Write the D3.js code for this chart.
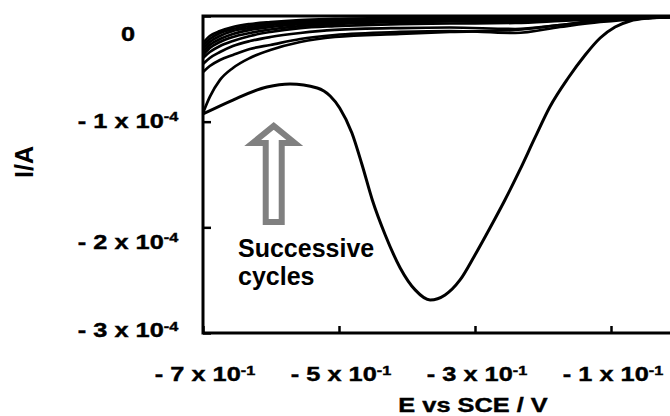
<!DOCTYPE html>
<html>
<head>
<meta charset="utf-8">
<script src="https://cdnjs.cloudflare.com/ajax/libs/d3/7.8.5/d3.min.js"></script>
<style>
  html, body { margin: 0; padding: 0; background: #fff; }
  svg { display: block; font-family: "Liberation Sans", Arial, sans-serif; font-weight: bold; }
</style>
</head>
<body>
<svg id="chart" width="670" height="416"></svg>
<script>
// current values are in units of 1e-4 A, potentials in V
const xTickValues = [-0.7, -0.5, -0.3, -0.1];
const xTickLabels = [`- 7 x 10`, `- 5 x 10`, `- 3 x 10`, `- 1 x 10`];
const xTickExps = [`-1`, `-1`, `-1`, `-1`];

const yTickValues = [0, -1, -2, -3];
const yTickLabels = [`0`, `- 1 x 10`, `- 2 x 10`, `- 3 x 10`];
const yTickExps = [``, `-4`, `-4`, `-4`];

// first cycle, the one with the big reduction peak
const cycle1E = [-0.700, -0.656, -0.606, -0.572, -0.532, -0.513, -0.499, -0.481, -0.466, -0.451,
  -0.432, -0.410, -0.388, -0.366, -0.344, -0.322, -0.300, -0.278, -0.256, -0.234,
  -0.212, -0.190, -0.163, -0.138, -0.116, -0.094, -0.072, -0.043, -0.013, 0.000];
const cycle1I = [-0.927, -0.795, -0.672, -0.643, -0.681, -0.757, -0.870, -1.107, -1.410, -1.741,
  -2.072, -2.384, -2.592, -2.687, -2.640, -2.498, -2.261, -2.006, -1.741, -1.457,
  -1.154, -0.861, -0.587, -0.369, -0.208, -0.104, -0.047, -0.019, -0.009, -0.005];

// later sweeps, all read at the same potentials
const sweepE = [-0.700, -0.690, -0.675, -0.656, -0.631, -0.601, -0.557, -0.506, -0.410, -0.337,
  -0.241, -0.175, -0.116, -0.057, 0.000];
const return1I = [-0.918, -0.766, -0.605, -0.492, -0.397, -0.322, -0.246, -0.199, -0.170, -0.151, -0.132, -0.085, -0.038, -0.019, -0.009];
const cycle2I = [-0.530, -0.473, -0.416, -0.369, -0.312, -0.274, -0.218, -0.180, -0.151, -0.142, -0.161, -0.104, -0.057, -0.024, -0.009];
const cycle3I = [-0.454, -0.397, -0.341, -0.284, -0.237, -0.199, -0.161, -0.132, -0.114, -0.109, -0.123, -0.085, -0.047, -0.019, -0.009];
const cycle4I = [-0.397, -0.341, -0.284, -0.237, -0.189, -0.151, -0.114, -0.095, -0.076, -0.071, -0.066, -0.047, -0.028, -0.014, -0.009];
const cycle5I = [-0.369, -0.303, -0.246, -0.199, -0.161, -0.128, -0.095, -0.076, -0.057, -0.052, -0.047, -0.038, -0.024, -0.014, -0.005];
const cycle6I = [-0.341, -0.274, -0.218, -0.170, -0.132, -0.104, -0.076, -0.061, -0.047, -0.043, -0.038, -0.028, -0.019, -0.009, -0.005];
const cycle7I = [-0.312, -0.246, -0.189, -0.142, -0.114, -0.085, -0.061, -0.047, -0.038, -0.033, -0.028, -0.019, -0.014, -0.009, -0.005];
const cycle8I = [-0.284, -0.218, -0.161, -0.123, -0.095, -0.071, -0.047, -0.038, -0.028, -0.024, -0.019, -0.014, -0.009, -0.005, -0.005];
const cycle9I = [-0.255, -0.189, -0.142, -0.104, -0.076, -0.057, -0.038, -0.028, -0.019, -0.014, -0.014, -0.009, -0.009, -0.005, -0.005];

const sweeps = [return1I, cycle2I, cycle3I, cycle4I, cycle5I, cycle6I, cycle7I, cycle8I, cycle9I];

// layout
const plotLeft = 203, plotTop = 16, plotBottom = 333;
const labelStretch = 1.3;
const yLabelNudge = [25, 6, 21.5, 4];

const svg = d3.select(`#chart`);

const x = d3.scaleLinear().domain([-0.7, 0]).range([plotLeft, 679]);
const y = d3.scaleLinear().domain([-3, 0]).range([plotBottom, plotTop]);

svg.append(`defs`).append(`clipPath`)
  .attr(`id`, `plotArea`)
  .append(`rect`)
  .attr(`x`, plotLeft)
  .attr(`y`, plotTop)
  .attr(`width`, 700 - plotLeft)
  .attr(`height`, plotBottom - plotTop);

const line = d3.line()
  .x(d => x(d[0]))
  .y(d => y(d[1]))
  .curve(d3.curveMonotoneX);

const curves = svg.append(`g`).attr(`clip-path`, `url(#plotArea)`);

sweeps.forEach(s => {
  curves.append(`path`)
    .attr(`d`, line(sweepE.map((e, i) => [e, s[i]])))
    .attr(`fill`, `none`)
    .attr(`stroke`, `#000`)
    .attr(`stroke-width`, 2.7);
});

curves.append(`path`)
  .attr(`d`, line(cycle1E.map((e, i) => [e, cycle1I[i]])))
  .attr(`fill`, `none`)
  .attr(`stroke`, `#000`)
  .attr(`stroke-width`, 3);

// frame: left, bottom and top (right side is cut off by the picture)
const frame = svg.append(`g`)
  .attr(`stroke`, `#000`)
  .attr(`stroke-width`, 3)
  .attr(`fill`, `none`);

frame.append(`path`)
  .attr(`d`, `M${670 + 5},${y(0)}H${x(-0.7)}V${y(-3)}H${670 + 5}`);

// ticks point into the plot
svg.append(`g`)
  .attr(`transform`, `translate(0,${plotBottom})`)
  .call(d3.axisBottom(x).tickValues(xTickValues).tickSize(-7).tickFormat(``))
  .call(g => g.select(`.domain`).remove())
  .call(g => g.selectAll(`line`).attr(`stroke-width`, 2.5));

svg.append(`g`)
  .attr(`transform`, `translate(${plotLeft},0)`)
  .call(d3.axisLeft(y).tickValues(yTickValues).tickSize(-8).tickFormat(``))
  .call(g => g.select(`.domain`).remove())
  .call(g => g.selectAll(`line`).attr(`stroke-width`, 2.5));

const sciLabel = (sel, tx, ty, base, exp) => {
  const t = sel.append(`text`)
    .attr(`transform`, `translate(${tx},${ty}) scale(${labelStretch},1)`)
    .attr(`text-anchor`, `middle`)
    .attr(`font-size`, 19.5)
    .attr(`fill`, `#000`)
    .attr(`stroke`, `#000`)
    .attr(`stroke-width`, 0.4);
  t.append(`tspan`).text(base);
  if (exp) {
    t.append(`tspan`)
      .attr(`dy`, -6.5)
      .attr(`font-size`, 12.5)
      .text(exp);
  }
};

const labels = svg.append(`g`);

xTickValues.forEach((v, i) => {
  sciLabel(labels, x(v) + 2, 381, xTickLabels[i], xTickExps[i]);
});

yTickValues.forEach((v, i) => {
  sciLabel(labels, 128, y(v) + yLabelNudge[i], yTickLabels[i], yTickExps[i]);
});

labels.append(`text`)
  .attr(`transform`, `translate(473,412) scale(${labelStretch},1)`)
  .attr(`text-anchor`, `middle`)
  .attr(`font-size`, 19.5)
  .attr(`stroke`, `#000`)
  .attr(`stroke-width`, 0.4)
  .text(`E vs SCE / V`);

labels.append(`text`)
  .attr(`transform`, `translate(33,162) rotate(-90)`)
  .attr(`text-anchor`, `middle`)
  .attr(`font-size`, 25)
  .text(`I/A`);

// annotation arrow
const ax = x(-0.596);
const ayTop = y(-1.04);
const ayBot = y(-1.95);
const headH = 17, headW = 21, shaftW = 8;

svg.append(`path`)
  .attr(`d`, `M${ax},${ayTop}
    L${ax + headW},${ayTop + headH}
    L${ax + shaftW},${ayTop + headH}
    L${ax + shaftW},${ayBot}
    L${ax - shaftW},${ayBot}
    L${ax - shaftW},${ayTop + headH}
    L${ax - headW},${ayTop + headH}Z`)
  .attr(`fill`, `#fff`)
  .attr(`stroke`, `#808080`)
  .attr(`stroke-width`, 6)
  .attr(`stroke-linejoin`, `miter`);

const note = svg.append(`text`)
  .attr(`font-size`, 25)
  .attr(`fill`, `#000`);

note.append(`tspan`)
  .attr(`x`, 238)
  .attr(`y`, 257)
  .text(`Successive`);

note.append(`tspan`)
  .attr(`x`, 238)
  .attr(`y`, 285)
  .text(`cycles`);
</script>
</body>
</html>
